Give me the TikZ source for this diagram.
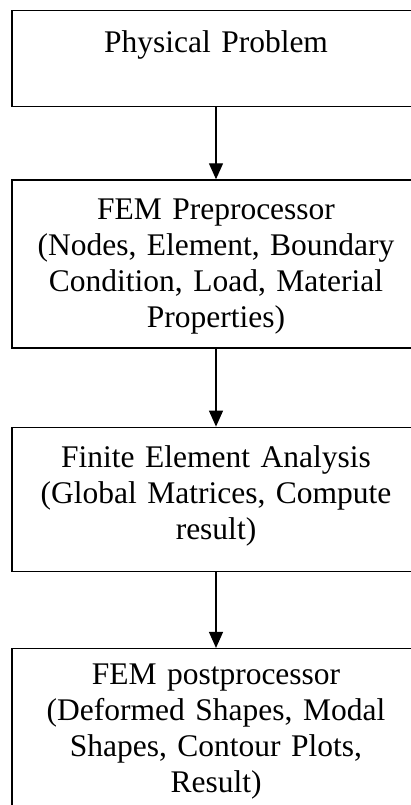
\documentclass[tikz,border=0pt]{standalone}
\usepackage{fontspec}
\setmainfont{Liberation Serif}
\usepackage{tikz}
\usetikzlibrary{positioning, arrows.meta}

\begin{document}
\begin{tikzpicture}[x=1pt, y=1pt,
	box/.style={draw, line width=1.3pt, minimum width=408pt, anchor=north, inner sep=0pt},
	boxtext/.style={anchor=north, text width=396pt, align=center, inner sep=0pt,
		font=\fontsize{31.5}{36}\selectfont},
	flow/.style={line width=1.3pt, -{Triangle[length=16pt, width=14pt]}}]
\useasboundingbox (0,0) rectangle (410,-805);
\node[box, minimum height=96pt] (phys) at (216,-10) {};
\node[box, minimum height=168pt, below=72pt of phys] (pre) {};
\node[box, minimum height=144pt, below=78pt of pre] (fea) {};
\node[box, minimum height=200pt, below=76pt of fea] (post) {};

\node[boxtext] (physT) at ([yshift=-20pt]phys.north) {Physical Problem};
\node[boxtext] (preT) at ([yshift=-19pt]pre.north) {FEM Preprocessor\\(Nodes, Element, Boundary\\Condition, Load, Material\\Properties)};
\node[boxtext] (feaT) at ([yshift=-19pt]fea.north) {Finite Element Analysis\\(Global Matrices, Compute\\result)};
\node[boxtext] (postT) at ([yshift=-16pt]post.north) {FEM postprocessor\\(Deformed Shapes, Modal\\Shapes, Contour Plots,\\Result)};

\draw[flow] (phys) -- (pre);
\draw[flow] (pre) -- (fea);
\draw[flow] (fea) -- (post);
\end{tikzpicture}
\end{document}
